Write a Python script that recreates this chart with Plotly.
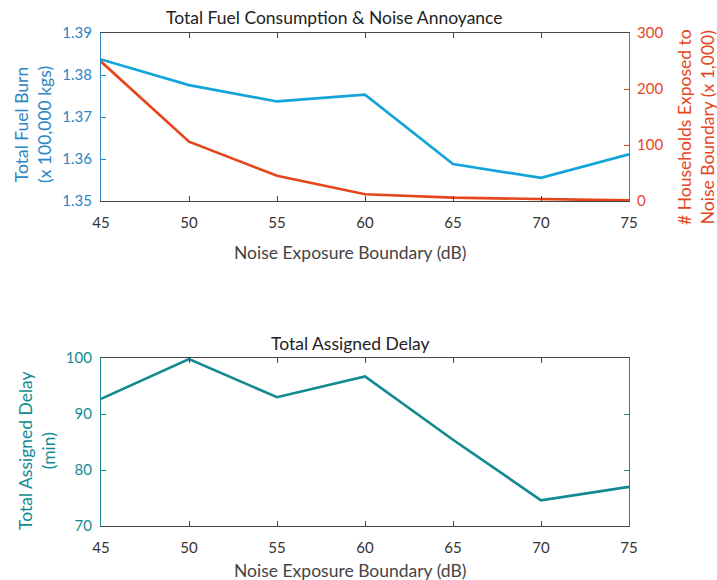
import plotly.graph_objects as go

boundary_db = [45, 50, 55, 60, 65, 70, 75]
fuel_burn = [1.3837, 1.3776, 1.3737, 1.3753, 1.3588, 1.3555, 1.3611]
households = [249, 106, 45, 12, 6, 3, 1]
delay_min = [92.7, 99.8, 93.0, 96.7, 85.4, 74.6, 77.0]

x_ticks = [45, 50, 55, 60, 65, 70, 75]
fuel_ticks = [1.35, 1.36, 1.37, 1.38, 1.39]
house_ticks = [0, 100, 200, 300]
delay_ticks = [70, 80, 90, 100]

BLUE = "#13A5DA"
BLUE_AX = "#2A86C4"
ORANGE = "#E5461C"
TEAL = "#138A91"
GRAY = "#454545"
FONT = "Lato"
TS = 17.5

fig = go.Figure()
fig.add_trace(go.Scatter(x=boundary_db, y=fuel_burn, mode="lines",
                         line=dict(color=BLUE, width=2.7), xaxis="x", yaxis="y", showlegend=False))
fig.add_trace(go.Scatter(x=boundary_db, y=households, mode="lines",
                         line=dict(color=ORANGE, width=2.7), xaxis="x", yaxis="y2", showlegend=False))
fig.add_trace(go.Scatter(x=boundary_db, y=delay_min, mode="lines",
                         line=dict(color=TEAL, width=2.7), xaxis="x3", yaxis="y3", showlegend=False))

x0, x1 = 101 / 717, 629 / 717
top_dom = [1 - 201 / 580, 1 - 33 / 580]
bot_dom = [1 - 526 / 580, 1 - 358 / 580]

xcommon = dict(range=[45, 75], tickvals=x_ticks, showline=True, linecolor=GRAY, linewidth=1.2,
               mirror="ticks", ticks="inside", ticklen=5, tickcolor=GRAY, showgrid=False, zeroline=False,
               automargin=False, ticklabelstandoff=8,
               tickfont=dict(family=FONT, size=15, color="#333333"))

def ann(text, x, y, color, size=TS, angle=0):
    return dict(text=text, x=x / 717, y=1 - y / 580, xref="paper", yref="paper", xanchor="center",
                yanchor="middle", showarrow=False, textangle=angle,
                font=dict(family=FONT, size=size, color=color))

fig.update_layout(
    width=717, height=580, margin=dict(l=0, r=0, t=0, b=0),
    plot_bgcolor="white", paper_bgcolor="white",
    font=dict(family=FONT),
    xaxis=dict(domain=[x0, x1], anchor="y", **xcommon),
    yaxis=dict(domain=top_dom, range=[1.35, 1.39], tickvals=fuel_ticks, tickformat=".2f",
               showline=True, linecolor=BLUE_AX, linewidth=1.2, ticks="inside", ticklen=5, tickcolor=BLUE_AX,
               showgrid=False, zeroline=False, automargin=False, ticklabelstandoff=5,
               tickfont=dict(family=FONT, size=15, color=BLUE_AX)),
    yaxis2=dict(overlaying="y", side="right", anchor="x", range=[0, 300], tickvals=house_ticks,
                showline=True, linecolor=ORANGE, linewidth=1.2, ticks="inside", ticklen=5, tickcolor=ORANGE,
                showgrid=False, zeroline=False, automargin=False, ticklabelstandoff=4,
                tickfont=dict(family=FONT, size=15, color=ORANGE)),
    xaxis3=dict(domain=[x0, x1], anchor="y3", **xcommon),
    yaxis3=dict(domain=bot_dom, anchor="x3", range=[70, 100], tickvals=delay_ticks,
                showline=True, linecolor=TEAL, linewidth=1.2, mirror="ticks", ticks="inside", ticklen=5,
                tickcolor=TEAL, showgrid=False, zeroline=False, automargin=False, ticklabelstandoff=5,
                tickfont=dict(family=FONT, size=15, color=TEAL)),
    annotations=[
        ann("Total Fuel Consumption & Noise Annoyance", 334, 18, "#222222"),
        ann("Total Assigned Delay", 350, 343, "#222222"),
        ann("Noise Exposure Boundary (dB)", 350, 252, "#444444"),
        ann("Noise Exposure Boundary (dB)", 350, 570, "#444444"),
        ann("Total Fuel Burn<br>(x 100,000 kgs)", 33, 125, BLUE_AX, angle=-90),
        ann("# Households Exposed to<br>Noise Boundary (x 1,000)", 696, 127, ORANGE, angle=-90),
        ann("Total Assigned Delay<br>(min)", 37, 451, TEAL, angle=-90),
    ],
)

fig.write_html("out.html")
